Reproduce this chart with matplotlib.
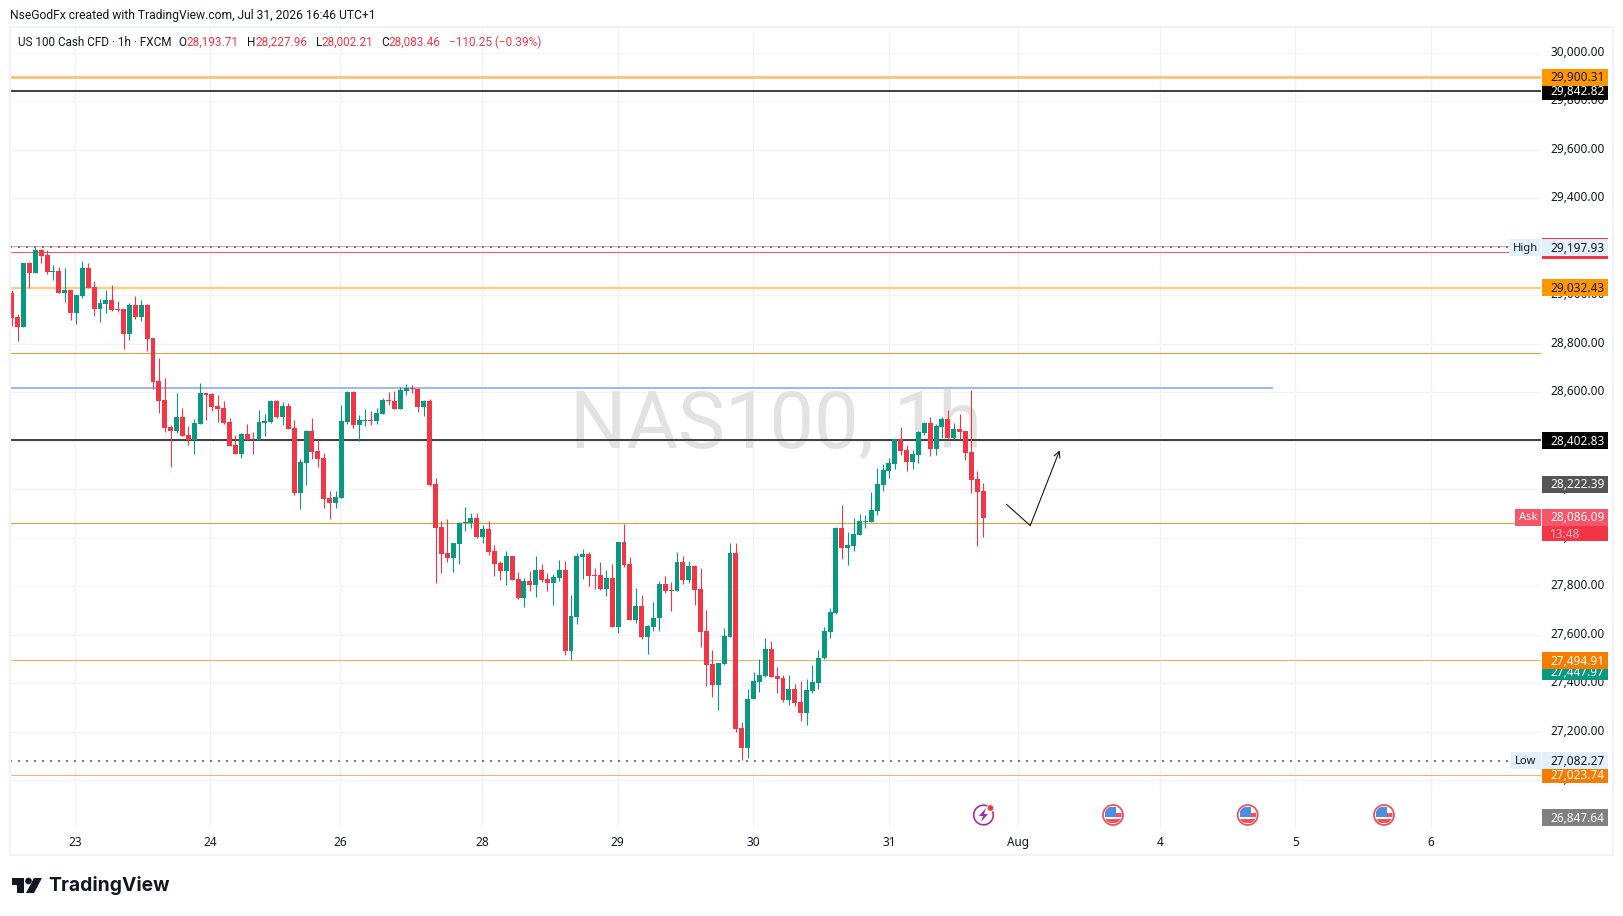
import numpy as np
import matplotlib.pyplot as plt
from matplotlib.patches import Rectangle, Circle, Polygon
from matplotlib.transforms import ScaledTranslation

W, H = 1623, 916

opens = [29009, 28910, 28870, 29133, 29093, 29187, 29166, 29096, 29100, 29011, 29022, 28928, 28997, 29112, 29034, 28945, 28964, 28980, 28943, 28943,
         28841, 28960, 28910, 28960, 28824, 28646, 28568, 28457, 28440, 28498, 28424, 28403, 28469, 28597, 28593, 28543, 28535, 28477, 28382, 28345,
         28428, 28406, 28403, 28473, 28477, 28564, 28498, 28543, 28452, 28185, 28308, 28440, 28358, 28329, 28164, 28143, 28164, 28477, 28601, 28465,
         28481, 28486, 28481, 28510, 28568, 28564, 28531, 28605, 28618, 28613, 28539, 28564, 28222, 28044, 27937, 27916, 27974, 28061, 28061, 28081,
         28003, 28036, 27945, 27896, 27863, 27925, 27830, 27752, 27822, 27805, 27867, 27830, 27813, 27834, 27867, 27533, 27673, 27921, 27932, 27846,
         27846, 27788, 27833, 27631, 27982, 27891, 27660, 27718, 27590, 27631, 27668, 27809, 27784, 27780, 27899, 27825, 27883, 27788, 27615, 27479,
         27392, 27479, 27590, 27936, 27215, 27132, 27334, 27404, 27429, 27541, 27429, 27421, 27330, 27376, 27322, 27277, 27367, 27400, 27503, 27611,
         27690, 28040, 27958, 27966, 28012, 28065, 28065, 28111, 28218, 28275, 28304, 28407, 28362, 28313, 28341, 28432, 28473, 28366, 28457, 28490,
         28412, 28449, 28440, 28354, 28242, 28193.71]
closes = [28907, 28870, 29133, 29093, 29187, 29162, 29097, 29100, 29011, 29022, 28928, 29001, 29112, 29030, 28945, 28968, 28980, 28939, 28939, 28841,
          28960, 28910, 28960, 28821, 28642, 28564, 28452, 28440, 28498, 28420, 28403, 28473, 28597, 28589, 28539, 28531, 28473, 28378, 28345, 28428,
          28403, 28402, 28477, 28481, 28564, 28498, 28543, 28448, 28184, 28312, 28440, 28354, 28325, 28160, 28143, 28168, 28481, 28601, 28465, 28486,
          28486, 28481, 28514, 28568, 28564, 28531, 28609, 28618, 28613, 28539, 28564, 28218, 28040, 27933, 27916, 27978, 28061, 28065, 28081, 28003,
          28036, 27941, 27892, 27863, 27925, 27826, 27752, 27822, 27805, 27867, 27826, 27813, 27838, 27867, 27533, 27677, 27925, 27933, 27842, 27842,
          27788, 27833, 27631, 27982, 27887, 27660, 27718, 27590, 27635, 27672, 27809, 27780, 27780, 27899, 27825, 27883, 27784, 27611, 27475, 27392,
          27483, 27594, 27936, 27211, 27132, 27338, 27409, 27433, 27541, 27425, 27417, 27330, 27376, 27318, 27277, 27371, 27404, 27507, 27615, 27693,
          28040, 27958, 27970, 28016, 28069, 28069, 28115, 28222, 28280, 28308, 28407, 28358, 28313, 28346, 28436, 28473, 28366, 28461, 28490, 28412,
          28449, 28436, 28350, 28238, 28189, 28083.46]
highs = [29022, 28925, 29133, 29137, 29198, 29191, 29187, 29125, 29116, 29112, 29022, 29001, 29141, 29133, 29059, 28984, 29022, 29042, 28976, 28943,
         28968, 28997, 28980, 28964, 28824, 28741, 28659, 28465, 28597, 28535, 28461, 28490, 28638, 28597, 28597, 28589, 28564, 28494, 28424, 28432,
         28469, 28436, 28527, 28510, 28568, 28568, 28560, 28556, 28485, 28325, 28444, 28494, 28407, 28349, 28193, 28193, 28547, 28605, 28605, 28506,
         28531, 28523, 28535, 28576, 28601, 28605, 28622, 28634, 28630, 28618, 28568, 28572, 28246, 28069, 28077, 27978, 28065, 28127, 28102, 28102,
         28053, 28069, 27970, 27904, 27945, 27925, 27859, 27834, 27863, 27925, 27892, 27855, 27850, 27908, 27904, 27764, 27937, 27954, 27941, 27875,
         27899, 27866, 27891, 27982, 28056, 27920, 27792, 27763, 27640, 27734, 27821, 27842, 27817, 27941, 27924, 27903, 27887, 27875, 27705, 27536,
         27483, 27627, 27978, 27978, 27240, 27376, 27446, 27499, 27586, 27574, 27466, 27433, 27433, 27396, 27409, 27417, 27475, 27536, 27631, 27710,
         28045, 28135, 28024, 28082, 28098, 28094, 28189, 28288, 28304, 28329, 28407, 28457, 28383, 28362, 28440, 28478, 28498, 28469, 28498, 28527,
         28473, 28511, 28440, 28610, 28275, 28227.96]
lows = [28873, 28811, 28870, 29031, 29093, 29133, 29088, 29063, 29011, 28972, 28898, 28881, 28989, 29030, 28914, 28890, 28927, 28935, 28931, 28778,
        28815, 28902, 28894, 28770, 28613, 28514, 28436, 28292, 28432, 28420, 28382, 28345, 28469, 28485, 28523, 28477, 28469, 28378, 28345, 28329,
        28403, 28345, 28403, 28420, 28473, 28494, 28465, 28448, 28176, 28119, 28218, 28325, 28292, 28123, 28077, 28123, 28164, 28469, 28453, 28399,
        28461, 28465, 28469, 28510, 28547, 28531, 28531, 28589, 28597, 28519, 28502, 28213, 27813, 27855, 27900, 27859, 27892, 28028, 28040, 27999,
        27978, 27929, 27842, 27826, 27805, 27826, 27747, 27714, 27780, 27756, 27818, 27780, 27723, 27822, 27516, 27496, 27644, 27830, 27800, 27788,
        27784, 27759, 27631, 27607, 27879, 27660, 27648, 27582, 27520, 27615, 27615, 27771, 27697, 27780, 27809, 27813, 27722, 27549, 27388, 27343,
        27289, 27475, 27590, 27198, 27083, 27091, 27334, 27363, 27425, 27425, 27359, 27322, 27310, 27306, 27244, 27227, 27359, 27376, 27499, 27586,
        27686, 27913, 27888, 27946, 28012, 28040, 28065, 28094, 28193, 28247, 28284, 28341, 28275, 28284, 28308, 28424, 28337, 28341, 28412, 28412,
        28407, 28407, 28321, 28185, 27966, 28002.21]

price_ticks = [30000, 29800, 29600, 29400, 29200, 29000, 28800, 28600, 28400, 28200, 28000, 27800, 27600, 27400, 27200, 27000]
date_pos = [10.8, 33.7, 55.8, 79.9, 102.9, 125.9, 149, 171, 195, 218, 241]
date_labels = ["23", "24", "26", "28", "29", "30", "31", "Aug", "4", "5", "6"]

arrow_x = [169, 173, 178]
arrow_y = [28138, 28051, 28362]

GREEN = "#089981"
RED = "#F23645"
GRID = "#F1F2F5"
FONT = "Noto Sans"
plt.rcParams["font.family"] = [FONT, "DejaVu Sans"]


def px(v):
    # line widths are easier to think about in pixels
    return v * 0.72


fig = plt.figure(figsize=(W / 100, H / 100), dpi=100, facecolor="white")

# pane runs 10..1541 across, 27..828 down
ax = fig.add_axes([10 / W, 1 - 828 / H, 1531 / W, 801 / H])
ax.set_xlim(-0.29, 259.75)
ax.set_ylim(26804, 30107)
for s in ax.spines.values():
    s.set_visible(False)
ax.set_axisbelow(True)
ax.grid(True, color=GRID, linewidth=px(1.2))

ax.yaxis.tick_right()
ax.set_yticks(price_ticks)
ax.set_yticklabels([f"{p:,.2f}" for p in price_ticks], fontsize=8.5, color="#131722")
ax.set_xticks(date_pos)
ax.set_xticklabels(date_labels, fontsize=8.5, color="#131722")
ax.tick_params(axis="both", length=0)
ax.tick_params(axis="y", pad=6.5)
ax.tick_params(axis="x", pad=5.5)
ax.get_xticklabels()[7].set_fontweight("bold")

# the price labels sit a little above their grid lines
up = ScaledTranslation(0, 2 / 72 * 0.72, fig.dpi_scale_trans)
for lab in ax.get_yticklabels():
    lab.set_transform(lab.get_transform() + up)

# watermark
ax.text(129.8, 28467, "NAS100, 1h", fontsize=57, color="#E2E2E2", ha="center", va="center", zorder=0.6,
        family="Roboto")

# horizontal levels
ax.axhline(29900.31, color="#FFBF66", linewidth=px(2.6), zorder=1.2)
ax.axhline(29842.82, color="#434343", linewidth=px(2), zorder=1.2)
ax.axhline(29203, color="#F7A1A8", linewidth=px(1), zorder=1.2)
ax.axhline(29181, color="#EF5A62", linewidth=px(1), zorder=1.2)
ax.axhline(29032.43, color="#FFCC80", linewidth=px(2.2), zorder=1.2)
ax.axhline(28763, color="#F39C2C", linewidth=px(1), zorder=1.2)
ax.plot([-0.29, 214], [28617, 28617], color="#9DB8F5", linewidth=px(2), zorder=1.2)
ax.axhline(28402.83, color="#434343", linewidth=px(2), zorder=1.2)
ax.axhline(28060, color="#F39C2C", linewidth=px(1), zorder=1.2)
ax.axhline(27494.91, color="#FFAD5C", linewidth=px(1), zorder=1.2)
ax.axhline(27023.74, color="#F9B06F", linewidth=px(1), zorder=1.2)

# high and low markers, dotted
for p in [29197.93, 27082.27]:
    ax.plot([-0.29, 254.5], [p, p], color="#787B86", linewidth=px(2), linestyle=(0, (1, 3)), zorder=1.3)

# candles
idx = np.arange(len(opens))
o = np.array(opens)
c = np.array(closes)
colors = [GREEN if c[i] >= o[i] else RED for i in idx]
ax.vlines(idx, lows, highs, colors=colors, linewidth=px(1.1), zorder=2)
ax.bar(idx, np.abs(c - o), bottom=np.minimum(o, c), width=0.84, color=colors, linewidth=0, zorder=2.1)

# drawn arrow
ax.plot(arrow_x[:2], arrow_y[:2], color="#131722", linewidth=px(1.1), zorder=3)
ax.annotate("", xy=(arrow_x[2], arrow_y[2]), xytext=(arrow_x[1], arrow_y[1]),
            arrowprops=dict(arrowstyle="->", color="#131722", linewidth=px(1.1), mutation_scale=11,
                            shrinkA=0, shrinkB=0), zorder=3)

# price tags on the right scale
trans = ax.get_yaxis_transform()


def xfrac(x):
    return (x - 10) / 1531


def price_tag(price, label, bg, fg, zorder, height=70):
    ax.add_patch(Rectangle((xfrac(1542), price - height / 2), 66 / 1531, height, transform=trans,
                           facecolor=bg, edgecolor="none", clip_on=False, zorder=zorder))
    if label:
        ax.text(xfrac(1550), price - 3, label, transform=trans, color=fg, fontsize=8.5, va="center", ha="left",
                clip_on=False, zorder=zorder + 0.01)


def side_label(price, label, x0, bg, fg, zorder, weight="normal"):
    ax.add_patch(Rectangle((xfrac(x0), price - 35), (1541 - x0) / 1531, 70, transform=trans,
                           facecolor=bg, edgecolor="none", clip_on=False, zorder=zorder))
    ax.text(xfrac((x0 + 1541) / 2), price - 3, label, transform=trans, color=fg, fontsize=8, va="center", ha="center",
            fontweight=weight, clip_on=False, zorder=zorder + 0.01)


price_tag(29842.82, "29,842.82", "#000000", "white", 5)
price_tag(29900.31, "29,900.31", "#FF9800", "#131722", 5.1)
price_tag(29203, "", RED, "white", 5)
price_tag(29185, "", RED, "white", 5.1)
price_tag(29197.93, "29,197.93", "#E3EFFD", "#131722", 5.2)
side_label(29197.93, "High", 1509, "#E3EFFD", "#131722", 5.2)
price_tag(29032.43, "29,032.43", "#FF9800", "#131722", 5)
price_tag(28402.83, "28,402.83", "#000000", "white", 5)
price_tag(28222.39, "28,222.39", "#555555", "white", 5)
price_tag(28018, "13:48", RED, "#FBB3BA", 5, height=64)
price_tag(28086.09, "28,086.09", "#F6566A", "white", 5.1)
side_label(28086.09, "Ask", 1515, "#F6566A", "white", 5.1, weight="bold")
price_tag(27447.97, "27,447.97", GREEN, "white", 5)
price_tag(27494.91, "27,494.91", "#F57C00", "white", 5.1)
price_tag(27023.74, "27,023.74", "#F57C00", "white", 5)
price_tag(27082.27, "27,082.27", "#E3EFFD", "#131722", 5.1)
side_label(27082.27, "Low", 1511, "#E3EFFD", "#131722", 5.1)
price_tag(26847.64, "26,847.64", "#808080", "white", 5)

# pixel overlay for frame, icons and logo
ov = fig.add_axes([0, 0, 1, 1], facecolor="none")
ov.set_xlim(0, W)
ov.set_ylim(H, 0)
ov.axis("off")
ov.add_patch(Rectangle((10, 27), 1603, 828, fill=False, edgecolor="#F0F3FA", linewidth=px(2.2)))

# events icon
ov.add_patch(Circle((983.5, 815), 9.8, fill=False, edgecolor="#9C27B0", linewidth=px(1.6)))
ov.add_patch(Polygon([(986, 808), (979, 816), (983, 816), (981, 822), (988, 814), (984, 814)], facecolor="#9C27B0", edgecolor="none"))
ov.add_patch(Circle((990.5, 808), 3.4, facecolor=RED, edgecolor="white", linewidth=px(1)))

# US flag icons
for fx in [1113, 1247.7, 1384]:
    clip = Circle((fx, 815), 8.6, transform=ov.transData)
    ov.add_patch(Circle((fx, 815), 10, facecolor="white", edgecolor="#F0525F", linewidth=px(1.8)))
    canton = ov.add_patch(Rectangle((fx - 8, 807), 11, 10, facecolor="#4A90E2", edgecolor="none"))
    canton.set_clip_path(clip)
    stripe = ov.add_patch(Rectangle((fx + 3, 813), 6, 4, facecolor="#F0525F", edgecolor="none"))
    stripe.set_clip_path(clip)
    stripe2 = ov.add_patch(Rectangle((fx - 8, 819), 16, 4, facecolor="#F0525F", edgecolor="none"))
    stripe2.set_clip_path(clip)

# header texts
HEAD = "Roboto"
ov.text(10, 15.5, "NseGodFx created with TradingView.com, Jul 31, 2026 16:46 UTC+1", fontsize=8.75, color="#131722", va="center", family=HEAD)
ov.text(18, 42, "US 100 Cash CFD · 1h · FXCM", fontsize=8.5, color="#131722", va="center", family=HEAD)
for x, s in [(178.6, "O"), (247.5, "H"), (316, "L"), (381.4, "C")]:
    ov.text(x, 42, s, fontsize=8.5, color="#131722", va="center", family=HEAD)
for x, s in [(186.5, "28,193.71"), (255, "28,227.96"), (321.5, "28,002.21"), (388.5, "28,083.46"), (449, "−110.25 (−0.39%)")]:
    ov.text(x, 42, s, fontsize=8.5, color=RED, va="center", family=HEAD)

# logo
ov.add_patch(Polygon([(12, 878), (24, 878), (24, 893), (17, 893), (17, 884.5), (12, 884.5)], facecolor="#131722", edgecolor="none"))
ov.add_patch(Circle((28.5, 881), 3.3, facecolor="#131722", edgecolor="none"))
ov.add_patch(Polygon([(34, 878), (42, 878), (34, 893), (26, 893)], facecolor="#131722", edgecolor="none"))
ov.text(48.5, 885.5, "TradingView", fontsize=13.9, color="#131722", va="center", family="Inter", fontweight="bold")

fig.savefig("out.png", dpi=100)
plt.close(fig)
